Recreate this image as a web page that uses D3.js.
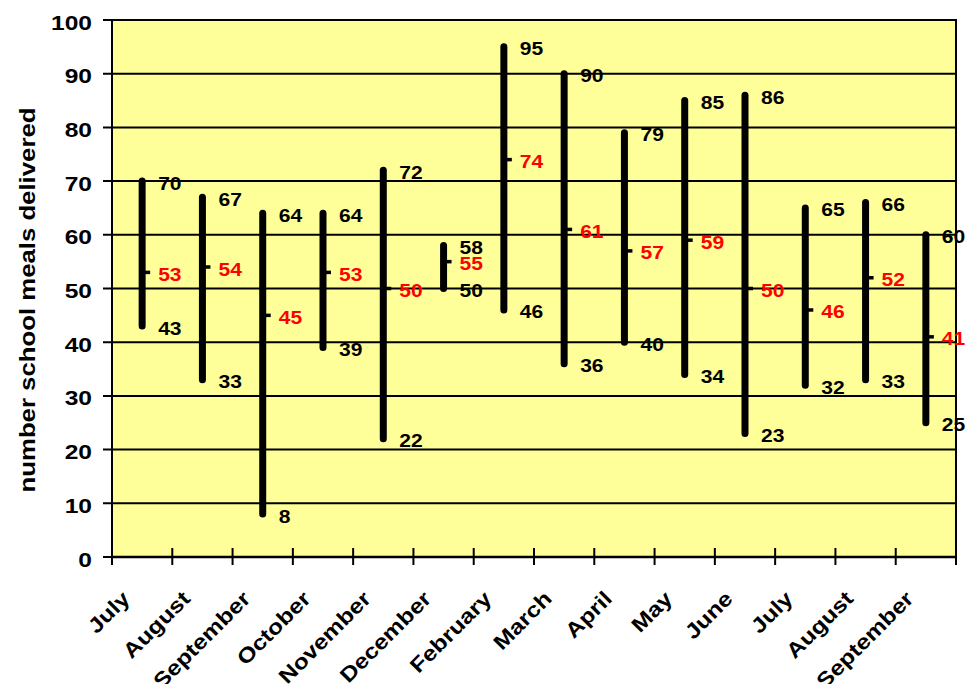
<!DOCTYPE html>
<html>
<head>
<meta charset="utf-8">
<script src="https://cdn.jsdelivr.net/npm/d3@7"></script>
<style>
  html, body { margin: 0; padding: 0; background: #fff; }
  svg { display: block; font-family: "Liberation Sans", Arial, sans-serif; font-weight: bold; }
</style>
</head>
<body>
<svg id="chart" width="966" height="684"></svg>
<script>
// Monthly school meals delivered: high, low and average per month
const months = ["July", "August", "September", "October", "November", "December",
                "February", "March", "April", "May", "June", "July", "August", "September"];
const highs = [70, 67, 64, 64, 72, 58, 95, 90, 79, 85, 86, 65, 66, 60];
const lows  = [43, 33,  8, 39, 22, 50, 46, 36, 40, 34, 23, 32, 33, 25];
const means = [53, 54, 45, 53, 50, 55, 74, 61, 57, 59, 50, 46, 52, 41];
const yTicks = [0, 10, 20, 30, 40, 50, 60, 70, 80, 90, 100];
const yTitle = "number school meals delivered";

const rows = months.map((m, i) => ({ i, month: m, high: highs[i], low: lows[i], mean: means[i] }));

const svg = d3.select("#chart");
const plot = { left: 112, right: 956, top: 20, bottom: 557 };
const wide = 1.17;   // horizontal widening applied to the lettering

const x = d3.scaleBand()
  .domain(rows.map(d => d.i))
  .range([plot.left, plot.right])
  .paddingInner(0).paddingOuter(0);
const y = d3.scaleLinear().domain([0, 100]).range([plot.bottom, plot.top]);
const cx = i => x(i) + x.bandwidth() / 2;

// plot background
svg.append("rect")
  .attr("x", plot.left).attr("y", plot.top)
  .attr("width", plot.right - plot.left).attr("height", plot.bottom - plot.top)
  .attr("fill", "#FFFF99");

// horizontal gridlines with outward ticks on the left
svg.append("g").selectAll("line").data(yTicks).join("line")
  .attr("x1", plot.left - 9).attr("x2", plot.right)
  .attr("y1", d => y(d)).attr("y2", d => y(d))
  .attr("stroke", "#000").attr("stroke-width", 2);

// y tick labels
svg.append("g").selectAll("text").data(yTicks).join("text")
  .attr("transform", d => `translate(92,${y(d) + 9.5}) scale(${wide},1)`)
  .attr("text-anchor", "end")
  .attr("font-size", 21)
  .text(d => d);

// plot frame
svg.append("rect")
  .attr("x", plot.left).attr("y", plot.top)
  .attr("width", plot.right - plot.left).attr("height", plot.bottom - plot.top)
  .attr("fill", "none").attr("stroke", "#000").attr("stroke-width", 2);

// x axis line and category boundary ticks
const bounds = rows.map(d => x(d.i)).concat([plot.right]);
svg.append("line")
  .attr("x1", plot.left).attr("x2", plot.right)
  .attr("y1", plot.bottom).attr("y2", plot.bottom)
  .attr("stroke", "#000").attr("stroke-width", 2.5);
svg.append("g").selectAll("line").data(bounds).join("line")
  .attr("x1", d => d).attr("x2", d => d)
  .attr("y1", plot.bottom - 9).attr("y2", plot.bottom + 8)
  .attr("stroke", "#000").attr("stroke-width", 2);

// rotated month labels
svg.append("g").selectAll("text").data(rows).join("text")
  .attr("transform", d => `translate(${cx(d.i) - 11},${plot.bottom + 43}) rotate(-45) scale(${wide},1)`)
  .attr("text-anchor", "end")
  .attr("font-size", 21)
  .text(d => d.month);

// y axis title
svg.append("text")
  .attr("transform", `translate(35,300) rotate(-90) scale(1.12,1)`)
  .attr("text-anchor", "middle")
  .attr("font-size", 23)
  .text(yTitle);

// high-low bars
const g = svg.append("g");
g.selectAll("line.range").data(rows).join("line")
  .attr("class", "range")
  .attr("x1", d => cx(d.i)).attr("x2", d => cx(d.i))
  .attr("y1", d => y(d.high)).attr("y2", d => y(d.low))
  .attr("stroke", "#000").attr("stroke-width", 7).attr("stroke-linecap", "round");

// average marks
g.selectAll("line.mean").data(rows).join("line")
  .attr("class", "mean")
  .attr("x1", d => cx(d.i)).attr("x2", d => cx(d.i) + 8)
  .attr("y1", d => y(d.mean)).attr("y2", d => y(d.mean))
  .attr("stroke", "#000").attr("stroke-width", 3.5);

// value labels
const labels = svg.append("g").attr("font-size", 18);
const place = v => d => `translate(${cx(d.i) + 16},${y(d[v]) + 8.5}) scale(${wide},1)`;
labels.selectAll("text.high").data(rows).join("text")
  .attr("class", "high")
  .attr("transform", place("high"))
  .attr("fill", "#000").text(d => d.high);
labels.selectAll("text.low").data(rows).join("text")
  .attr("class", "low")
  .attr("transform", place("low"))
  .attr("fill", "#000").text(d => d.low);
labels.selectAll("text.mean").data(rows).join("text")
  .attr("class", "mean")
  .attr("transform", place("mean"))
  .attr("fill", "#FF0000").text(d => d.mean);
</script>
</body>
</html>
